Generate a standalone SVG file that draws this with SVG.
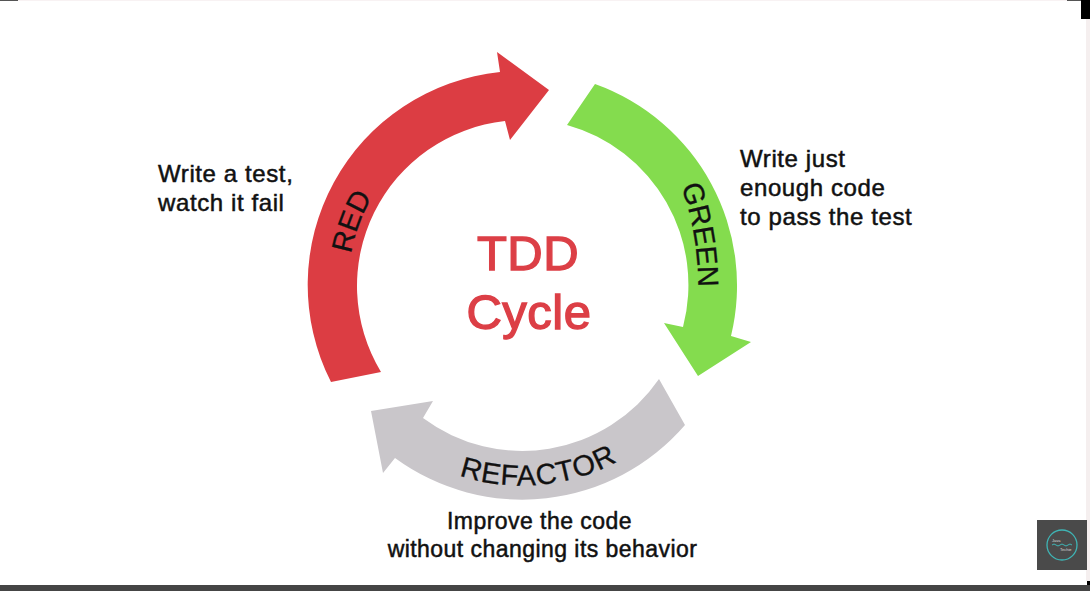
<svg xmlns="http://www.w3.org/2000/svg" width="1090" height="591" viewBox="0 0 1090 591">
<style>
.lbl{font-family:"Liberation Sans",Arial,sans-serif;font-size:24px;letter-spacing:.6px;fill:#111;stroke:#111;stroke-width:.5px}
.sub{font-size:23px;letter-spacing:.45px}
.arc{font-family:"Liberation Sans",Arial,sans-serif;font-size:29px;fill:#111;stroke:#111;stroke-width:.3px;text-anchor:middle}
.title{font-family:"Liberation Sans",Arial,sans-serif;font-size:49px;letter-spacing:.5px;fill:#dc3f46;stroke:#dc3f46;stroke-width:1.4px;text-anchor:middle}
</style>
<defs>
<path id="p-red" d="M358,343 A174,174 0 0 1 436,134"/>
<path id="p-green" d="M667,153 A300,300 0 0 1 696,323"/>
<path id="p-gray" d="M356,398 A201,201 0 0 0 703,372"/>
</defs>
<rect width="1090" height="591" fill="#fff"/>
<g id="frame">
<rect x="0" y="0" width="18" height="1" fill="#555"/>
<rect x="18" y="0" width="1050" height="1" fill="#f8f2f3"/>
<rect x="1067" y="0" width="14" height="1" fill="#555"/>
<rect x="1081" y="0" width="9" height="19" fill="#000"/>
<rect x="1086" y="19" width="4" height="562" fill="#f5efef"/>
<rect x="1087" y="581" width="3" height="4" fill="#000"/>
<rect x="0" y="585" width="1090" height="6" fill="#454545"/>
</g>
<g id="connectors">
<path id="arrow-red" d="M331,382 A214,214 0 0 1 500,72 L497,52 L549,90 L510,140 L505,121 A166,166 0 0 0 381,372 Z" fill="#dc3d43"/>
<path id="arrow-green" d="M595,84 A214,214 0 0 1 731,336 L751,342 L698,376 L664,323 L683,327 A166,166 0 0 0 567,125 Z" fill="#84dc4e"/>
<path id="arrow-gray" d="M685,425 A215,215 0 0 1 395,458 L383,473 L371,411 L433,401 L423,418 A166,166 0 0 0 659,379 Z" fill="#c9c6ca"/>
</g>
<g id="node-center"><text class="title" x="528" y="270">TDD</text><text class="title" x="529" y="329">Cycle</text></g>
<g id="node-red">
<text class="arc"><textPath href="#p-red" startOffset="50%">RED</textPath></text>
<text class="lbl" x="158" y="182">Write a test,</text><text class="lbl" x="158" y="211">watch it fail</text>
</g>
<g id="node-green">
<text class="arc"><textPath href="#p-green" startOffset="50%">GREEN</textPath></text>
<text class="lbl" x="740" y="167">Write just</text><text class="lbl" x="740" y="196">enough code</text><text class="lbl" x="740" y="225">to pass the test</text>
</g>
<g id="node-refactor">
<text class="arc" style="letter-spacing:.8px"><textPath href="#p-gray" startOffset="50.7%">REFACTOR</textPath></text>
<text class="lbl sub" x="539.5" y="529" text-anchor="middle">Improve the code</text>
<text class="lbl sub" x="542.5" y="557" text-anchor="middle">without changing its behavior</text>
</g>
<g id="watermark">
<rect x="1037" y="520" width="50" height="50" fill="#4a4a4a"/>
<circle cx="1062" cy="545" r="15" fill="none" stroke="#3fb5b5" stroke-width="1.3"/>
<path d="M1052,545 q2,-2 4,0 t4,0 t4,0 t4,0 t4,0" fill="none" stroke="#3fb5b5" stroke-width="1"/>
<text x="1052" y="542" font-family="Liberation Sans,sans-serif" font-size="4" fill="#ddd">Java</text>
<text x="1060" y="551" font-family="Liberation Sans,sans-serif" font-size="4" fill="#ddd">Techie</text>
</g>
</svg>
